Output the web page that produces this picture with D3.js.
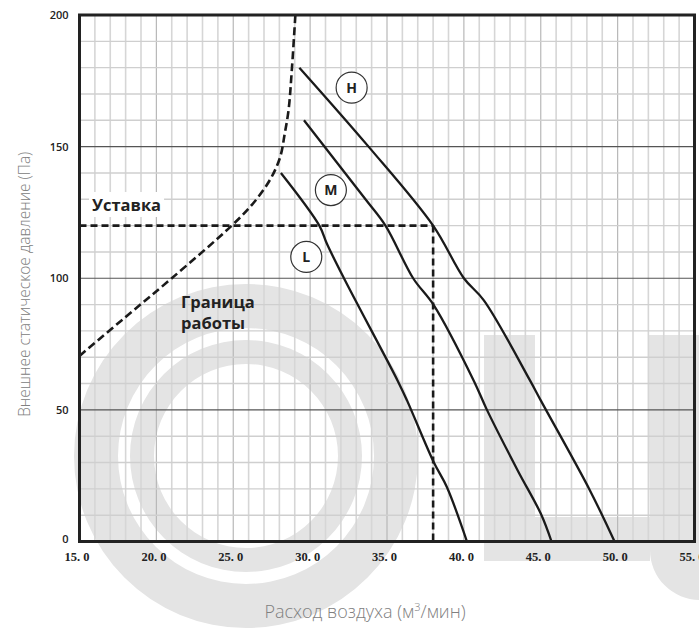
<!DOCTYPE html>
<html>
<head>
<meta charset="utf-8">
<script src="https://cdn.jsdelivr.net/npm/d3@7/dist/d3.min.js"></script>
<style>
  html, body { margin: 0; padding: 0; background: #fff; }
  svg { display: block; }
</style>
</head>
<body>
<svg id="chart" width="699" height="630"></svg>
<script>
// Fan performance: external static pressure vs air flow, speeds H / M / L
const xTickValues = [15, 20, 25, 30, 35, 40, 45, 50, 55];
const xTickLabels = ["15. 0", "20. 0", "25. 0", "30. 0", "35. 0", "40. 0", "45. 0", "50. 0", "55. 0"];
const yTickValues = [0, 50, 100, 150, 200];
const yTickLabels = ["0", "50", "100", "150", "200"];

// [air flow m³/min, static pressure Pa]
const curveH = [[29.3, 180], [33.8, 150], [38.0, 120], [40.0, 100], [41.3, 91.6], [44.3, 61.2], [45.0, 53.6], [48.2, 19.4], [49.8, 0]];
const curveM = [[29.6, 160], [33.6, 130], [34.9, 120], [36.7, 100], [38.05, 89.7], [40.65, 61], [41.5, 50], [43.5, 27], [45.0, 10.6], [45.7, 0]];
const curveL = [[28.1, 140], [30.6, 120], [31.1, 113], [32.2, 100], [35.7, 61], [36.3, 53.6], [38.05, 30], [38.9, 20.6], [40.2, 0]];
const boundary = [[15, 70.5], [18, 85.3], [21, 100], [24.9, 120], [26.3, 128.5], [27.4, 137.5], [28.05, 146], [28.35, 155], [28.6, 164], [28.82, 180], [29.04, 200]];
const setpoint = [38.0, 120];

const speedNames = ["H", "M", "L"];
const speedLabelAt = [[32.7, 172.4], [31.35, 133.5], [29.75, 108.1]];

const svg = d3.select("#chart");
const x = d3.scaleLinear().domain([15, 55]).range([79.5, 694.5]);
const y = d3.scaleLinear().domain([0, 200]).range([541.5, 15]);

// faint logo watermark behind the grid
const wm = svg.append("g").attr("fill", "#e4e4e4");
const ringCx = 246, ringCy = 456;
[[128, 172], [92, 116]].forEach(([r0, r1]) => {
  wm.append("path")
    .attr("transform", `translate(${ringCx},${ringCy})`)
    .attr("d", d3.arc().innerRadius(r0).outerRadius(r1).startAngle(0).endAngle(2 * Math.PI)());
});
wm.append("rect").attr("x", 484).attr("y", 335).attr("width", 51).attr("height", 226);
wm.append("rect").attr("x", 484).attr("y", 517).attr("width", 166).attr("height", 44);
wm.append("path").attr("d", "M648,335 H720 V600 H700 A50,50 0 0 1 650,550 Z");

// grid
const grid = svg.append("g");
d3.range(16, 55, 1).forEach(v => {
  grid.append("line")
    .attr("x1", x(v)).attr("x2", x(v)).attr("y1", y(200)).attr("y2", y(0))
    .attr("stroke", v % 5 === 0 ? "#b8b8b8" : "#d6d6d6")
    .attr("stroke-width", v % 5 === 0 ? 1.2 : 1.6);
});
d3.range(10, 200, 10).forEach(p => {
  grid.append("line")
    .attr("x1", x(15)).attr("x2", x(55)).attr("y1", y(p)).attr("y2", y(p))
    .attr("stroke", p % 50 === 0 ? "#555" : "#cfcfcf")
    .attr("stroke-width", p % 50 === 0 ? 1.2 : 1.4);
});

// axes
const xAxis = svg.append("g")
  .attr("transform", `translate(-3,${y(0)})`)
  .call(d3.axisBottom(x).tickValues(xTickValues).tickFormat((d, i) => xTickLabels[i]).tickSize(0).tickPadding(11));
xAxis.select(".domain").remove();
xAxis.selectAll("text")
  .attr("font-family", "'Liberation Serif', serif")
  .attr("font-size", 12.5).attr("font-weight", "bold").attr("fill", "#222");

const yAxis = svg.append("g")
  .attr("transform", `translate(${x(15) - 11},0)`)
  .call(d3.axisLeft(y).tickValues(yTickValues).tickFormat((d, i) => yTickLabels[i]).tickSize(0).tickPadding(0));
yAxis.select(".domain").remove();
yAxis.selectAll("text")
  .attr("font-family", "'Open Sans', sans-serif")
  .attr("font-size", 11).attr("font-weight", 600).attr("fill", "#222");
yAxis.selectAll(".tick").filter(d => d === 0).select("text").attr("dy", "0.1em");

// setpoint guide lines
const dashed = svg.append("g").attr("fill", "none").attr("stroke", "#1a1a1a")
  .attr("stroke-width", 2.6).attr("stroke-dasharray", "7,4");
dashed.append("line")
  .attr("x1", x(15)).attr("x2", x(setpoint[0])).attr("y1", y(setpoint[1])).attr("y2", y(setpoint[1]));
dashed.append("line")
  .attr("x1", x(setpoint[0])).attr("x2", x(setpoint[0])).attr("y1", y(setpoint[1])).attr("y2", y(0));

const line = d3.line().x(d => x(d[0])).y(d => y(d[1])).curve(d3.curveCatmullRom.alpha(0.5));

// operating limit
svg.append("path").datum(boundary)
  .attr("d", line).attr("fill", "none").attr("stroke", "#1a1a1a")
  .attr("stroke-width", 2.6).attr("stroke-dasharray", "8,4");

// fan curves
[curveH, curveM, curveL].forEach(c => {
  svg.append("path").datum(c)
    .attr("d", line).attr("fill", "none").attr("stroke", "#1a1a1a").attr("stroke-width", 2.3);
});

// speed markers
speedNames.forEach((n, i) => {
  const g = svg.append("g").attr("transform", `translate(${x(speedLabelAt[i][0])},${y(speedLabelAt[i][1])})`);
  g.append("circle").attr("r", 15.5).attr("fill", "#fff").attr("stroke", "#333").attr("stroke-width", 1.2);
  g.append("text").text(n).attr("text-anchor", "middle").attr("dy", "0.36em")
    .attr("font-family", "'Open Sans', sans-serif").attr("font-size", 14).attr("font-weight", "bold").attr("fill", "#222");
});

// annotations
const ann = svg.append("g")
  .attr("font-family", "'Open Sans', sans-serif").attr("font-size", 16.5).attr("font-weight", "bold").attr("fill", "#222");
const ust = ann.append("text").attr("x", 92).attr("y", 211).text("Уставка");
const bb = ust.node().getBBox();
ann.insert("rect", "text").attr("x", bb.x - 3).attr("y", bb.y - 1).attr("width", bb.width + 6).attr("height", bb.height + 2).attr("fill", "#fff");
ann.append("text").attr("x", 181).attr("y", 308).text("Граница");
ann.append("text").attr("x", 181).attr("y", 329).text("работы");

// frame
svg.append("rect")
  .attr("x", x(15)).attr("y", y(200)).attr("width", x(55) - x(15)).attr("height", y(0) - y(200))
  .attr("fill", "none").attr("stroke", "#222").attr("stroke-width", 3);

// axis titles
svg.append("text")
  .attr("x", 365).attr("y", 618).attr("text-anchor", "middle")
  .attr("font-family", "'Open Sans', sans-serif").attr("font-weight", 300).attr("font-size", 18).attr("fill", "#808080")
  .html("Расход воздуха (м<tspan dy='-7' font-size='11'>3</tspan><tspan dy='7'>/мин)</tspan>");
svg.append("text")
  .attr("transform", `translate(30,${(y(0) + y(200)) / 2 + 6}) rotate(-90)`)
  .attr("text-anchor", "middle")
  .attr("font-family", "'Open Sans', sans-serif").attr("font-weight", 300).attr("font-size", 15.5).attr("fill", "#808080")
  .text("Внешнее статическое давление (Па)");
</script>
</body>
</html>
